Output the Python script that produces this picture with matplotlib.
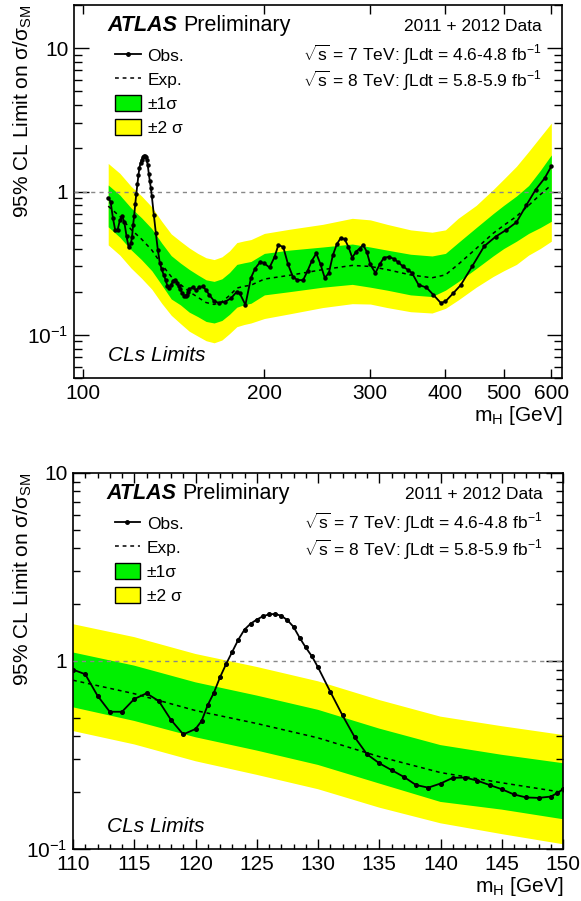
import numpy as np
import matplotlib
matplotlib.use('Agg')
import matplotlib.pyplot as plt
from matplotlib.lines import Line2D
from matplotlib.patches import Patch
from matplotlib.ticker import FixedLocator, FixedFormatter, NullLocator, LogLocator, NullFormatter, MultipleLocator

plt.rcParams['font.family'] = ['Liberation Sans', 'DejaVu Sans']
plt.rcParams['mathtext.fontset'] = 'custom'
plt.rcParams['mathtext.rm'] = 'Liberation Sans'
plt.rcParams['mathtext.it'] = 'Liberation Sans:italic'
plt.rcParams['mathtext.bf'] = 'Liberation Sans:bold'

obs_mass = [110, 111, 112, 113, 114, 115, 116, 117, 118, 119, 120, 120.5, 121, 121.5,
            122, 122.5, 123, 123.5, 124, 124.5, 125, 125.5, 126, 126.5, 127, 127.5,
            128, 128.5, 129, 129.5, 130, 131, 132, 133, 134, 135, 136, 137, 138, 139,
            140, 141, 142, 143, 144, 145, 146, 147, 148, 149, 149.5, 150,
            152, 154, 156, 158, 160, 162, 165, 168, 172, 176, 180, 182, 186, 190,
            193, 197, 200, 204, 208, 211, 215, 219, 223, 227, 232, 236, 240, 244,
            248, 252, 256, 260, 264, 268, 272, 276, 280, 284, 288, 292, 296, 300,
            306, 311, 316, 322, 328, 333, 340, 346, 352, 361, 372, 382, 393, 400,
            412, 424, 443, 464, 485, 505, 525, 545, 565, 585, 600]
obs_limit = [0.90, 0.85, 0.654, 0.537, 0.537, 0.628, 0.673, 0.613, 0.486, 0.407, 0.435, 0.48,
             0.583, 0.678, 0.819, 0.964, 1.12, 1.30, 1.47, 1.58, 1.66, 1.73, 1.77, 1.78,
             1.74, 1.65, 1.52, 1.33, 1.18, 1.06, 0.926, 0.687, 0.514, 0.393, 0.319, 0.286,
             0.263, 0.242, 0.219, 0.212, 0.223, 0.239, 0.24, 0.231, 0.219, 0.208, 0.195,
             0.188, 0.187, 0.19, 0.198, 0.208,
             0.215, 0.205, 0.215, 0.218, 0.205, 0.19, 0.172, 0.167, 0.17, 0.18, 0.20, 0.195,
             0.162, 0.25, 0.29, 0.324, 0.315, 0.295, 0.35, 0.424, 0.41, 0.31, 0.255, 0.241,
             0.241, 0.28, 0.33, 0.37, 0.31, 0.25, 0.27, 0.36, 0.43, 0.475, 0.465, 0.41,
             0.345, 0.38, 0.40, 0.424, 0.38, 0.31, 0.27, 0.31, 0.345, 0.35, 0.34, 0.324,
             0.30, 0.285, 0.27, 0.223, 0.214, 0.19, 0.167, 0.171, 0.195, 0.222, 0.30,
             0.415, 0.485, 0.54, 0.61, 0.80, 1.03, 1.24, 1.50]

# expected limit and bands
band_mass = [110, 115, 120, 125, 130, 135, 140, 145, 150, 155, 160, 165, 170, 175, 180,
             185, 190, 200, 220, 250, 280, 300, 320, 350, 380, 400, 420, 450, 480, 500,
             525, 550, 575, 600]
exp_limit = [0.79, 0.67, 0.545, 0.465, 0.39, 0.31, 0.255, 0.225, 0.20, 0.183, 0.168, 0.163,
             0.17, 0.188, 0.212, 0.218, 0.222, 0.245, 0.26, 0.285, 0.305, 0.30, 0.285, 0.262,
             0.25, 0.262, 0.31, 0.40, 0.51, 0.58, 0.67, 0.80, 0.95, 1.11]
band_m2 = [0.424, 0.36, 0.293, 0.248, 0.208, 0.166, 0.137, 0.12, 0.106, 0.098, 0.091, 0.088,
           0.092, 0.102, 0.114, 0.118, 0.121, 0.13, 0.14, 0.155, 0.165, 0.164, 0.155, 0.145,
           0.142, 0.153, 0.175, 0.215, 0.255, 0.28, 0.31, 0.36, 0.40, 0.45]
band_m1 = [0.567, 0.48, 0.393, 0.334, 0.28, 0.223, 0.178, 0.162, 0.144, 0.134, 0.124, 0.121,
           0.126, 0.139, 0.156, 0.162, 0.166, 0.19, 0.20, 0.215, 0.225, 0.215, 0.205, 0.19,
           0.185, 0.205, 0.235, 0.29, 0.355, 0.40, 0.45, 0.51, 0.56, 0.62]
band_p1 = [1.11, 0.945, 0.77, 0.655, 0.55, 0.437, 0.357, 0.317, 0.286, 0.262, 0.242, 0.236,
           0.246, 0.272, 0.31, 0.318, 0.325, 0.37, 0.39, 0.41, 0.43, 0.41, 0.39, 0.365,
           0.355, 0.37, 0.44, 0.56, 0.70, 0.80, 0.93, 1.10, 1.40, 1.80]
band_p2 = [1.57, 1.34, 1.09, 0.93, 0.78, 0.62, 0.506, 0.45, 0.404, 0.37, 0.345, 0.335,
           0.35, 0.385, 0.44, 0.452, 0.462, 0.51, 0.545, 0.59, 0.65, 0.634, 0.59, 0.54,
           0.52, 0.54, 0.65, 0.80, 1.03, 1.22, 1.50, 1.90, 2.40, 3.00]

top_xticks = [100, 200, 300, 400, 500, 600]
bot_xticks = [110, 115, 120, 125, 130, 135, 140, 145, 150]
yticks = [0.1, 1, 10]
ytick_labels = ['$10^{-1}$', '1', '10']

GREEN = '#00f000'
YELLOW = '#ffff00'


def draw(ax, ms, label_x):
    ax.fill_between(band_mass, band_m2, band_p2, color=YELLOW, lw=0, zorder=1)
    ax.fill_between(band_mass, band_m1, band_p1, color=GREEN, lw=0, zorder=2)
    ax.axhline(1, color='#888888', ls=(0, (3, 3)), lw=1.0, zorder=3)
    ax.plot(band_mass, exp_limit, color='k', ls=(0, (2.5, 2.5)), lw=1.1, zorder=4)
    ax.plot(obs_mass, obs_limit, color='k', lw=1.3, marker='o', ms=ms, zorder=5)

    ax.set_yscale('log')
    ax.yaxis.set_major_locator(FixedLocator(yticks))
    ax.yaxis.set_major_formatter(FixedFormatter(ytick_labels))
    ax.yaxis.set_minor_locator(LogLocator(base=10, subs=np.arange(2, 10)))
    ax.yaxis.set_minor_formatter(NullFormatter())
    ax.tick_params(which='both', direction='in', top=True, right=True,
                   labelsize=15, width=1)
    for s in ax.spines.values():
        s.set_linewidth(1.2)

    ax.set_ylabel(r'95% CL Limit on σ/σ$_{\rm SM}$', fontsize=15, loc='top')
    ax.yaxis.set_label_coords(label_x, 1)
    ax.set_xlabel(r'm$_{\rm H}$ [GeV]', fontsize=15, loc='right', labelpad=1)

    t = ax.text(0.068, 0.945, 'ATLAS', transform=ax.transAxes, fontsize=15.5,
                fontweight='bold', fontstyle='italic', va='center', ha='left')
    ax.annotate('Preliminary', xy=(1, 0), xycoords=t, xytext=(4.5, 0),
                textcoords='offset points', fontsize=15.5, va='bottom', ha='left')
    ax.text(0.958, 0.942, '2011 + 2012 Data', transform=ax.transAxes, fontsize=12.5,
            ha='right', va='center')
    ax.text(0.958, 0.867, r'$\sqrt{\rm s}$ = 7 TeV: ∫Ldt = 4.6-4.8 fb$^{-1}$',
            transform=ax.transAxes, fontsize=12.5, ha='right', va='center')
    ax.text(0.958, 0.795, r'$\sqrt{\rm s}$ = 8 TeV: ∫Ldt = 5.8-5.9 fb$^{-1}$',
            transform=ax.transAxes, fontsize=12.5, ha='right', va='center')
    ax.text(0.07, 0.06, 'CLs Limits', transform=ax.transAxes, fontsize=15,
            fontstyle='italic', ha='left', va='center')

    handles = [Line2D([], [], color='k', lw=1.3, marker='o', ms=2.5),
               Line2D([], [], color='k', lw=1.1, ls=(0, (2.5, 2.5))),
               Patch(facecolor=GREEN, edgecolor='k', lw=1),
               Patch(facecolor=YELLOW, edgecolor='k', lw=1)]
    labels = ['Obs.', 'Exp.', '±1σ', '±2 σ']
    ax.legend(handles, labels, loc='upper left', bbox_to_anchor=(0.085, 0.887),
              frameon=False, fontsize=12.5, handlelength=1.45, handleheight=1.05,
              handletextpad=0.4, labelspacing=0.4, borderpad=0, borderaxespad=0)


fig = plt.figure(figsize=(5.81, 9.01), dpi=100)

ax1 = fig.add_axes([74 / 581, 1 - 378 / 901, 488 / 581, 373 / 901])
draw(ax1, 2.2, -0.082)
ax1.set_xscale('log')
ax1.set_xlim(96.5, 625)
ax1.set_ylim(0.05, 20)
ax1.xaxis.set_major_locator(FixedLocator(top_xticks))
ax1.xaxis.set_major_formatter(FixedFormatter([str(v) for v in top_xticks]))
ax1.xaxis.set_minor_locator(NullLocator())
ax1.tick_params(axis='x', which='major', length=6.5, pad=4)
ax1.tick_params(axis='y', which='major', length=11, pad=4)
ax1.tick_params(axis='y', which='minor', length=5.8)

ax2 = fig.add_axes([73 / 581, 1 - 849 / 901, 490 / 581, 376 / 901])
draw(ax2, 2.6, -0.079)
ax2.set_xlim(110, 150)
ax2.set_ylim(0.1, 10)
ax2.xaxis.set_major_locator(FixedLocator(bot_xticks))
ax2.xaxis.set_major_formatter(FixedFormatter([str(v) for v in bot_xticks]))
ax2.xaxis.set_minor_locator(MultipleLocator(1))
ax2.tick_params(axis='x', which='major', length=7, pad=4)
ax2.tick_params(axis='x', which='minor', length=3.6)
ax2.tick_params(axis='y', which='major', length=12, pad=4)
ax2.tick_params(axis='y', which='minor', length=5)

fig.savefig('out.png', dpi=100)
